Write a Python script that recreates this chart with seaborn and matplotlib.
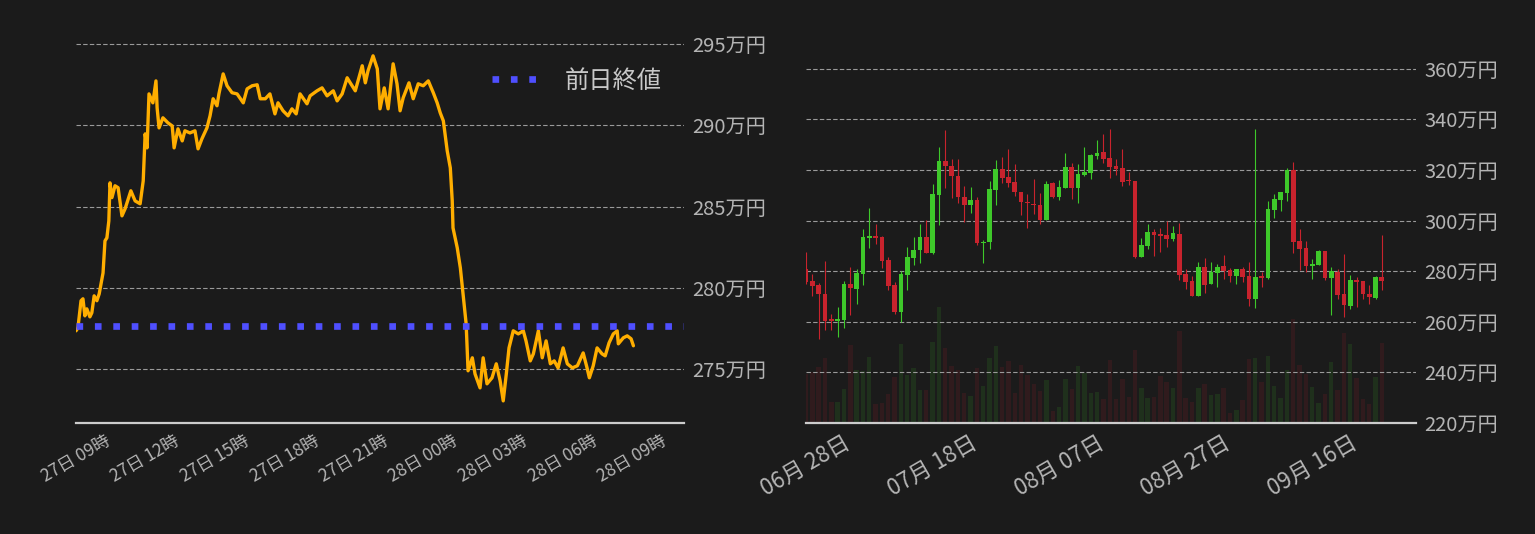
import pandas as pd
import matplotlib
matplotlib.use('Agg')
import matplotlib.pyplot as plt
import matplotlib.dates as mdates
from matplotlib.ticker import FuncFormatter, MultipleLocator
import seaborn as sns

# --- 左: 1日の推移 (27日 09時から, 分単位) ---
day_start = '2022-09-27 09:00'
minutes = [0, 5, 13, 18, 23, 28, 36, 41, 47, 54, 60, 67, 70, 75, 80, 85, 88, 93, 101, 109,
           119, 127, 142, 153, 166, 174, 179, 184, 189, 199, 207, 210, 215, 225, 238, 249, 254,
           264, 275, 282, 295, 308, 316, 326, 339, 347, 355, 365, 370, 381, 391, 404, 417, 433,
           443, 456, 469, 477, 490, 502, 515, 523, 536, 549, 559, 570, 580, 598, 606, 624, 637,
           650, 666, 676, 689, 702, 710, 723, 741, 749, 756, 769, 780, 787, 798, 808, 821, 831,
           839, 847, 862, 873, 886, 899, 912, 925, 935, 943, 951, 961, 969, 974, 976, 987, 995,
           1002, 1010, 1015, 1026, 1033, 1046, 1054, 1064, 1077, 1088, 1098, 1106, 1114, 1121,
           1132, 1145, 1158, 1165, 1176, 1184, 1197, 1207, 1217, 1228, 1238, 1248, 1261, 1272,
           1285, 1298, 1313, 1323, 1329, 1339, 1349, 1362, 1370, 1380, 1391, 1401, 1404, 1417,
           1427, 1437, 1443]
price = [277.37, 277.55, 279.22, 279.34, 278.29, 278.72, 278.23, 278.48, 279.52, 279.22,
         279.64, 280.57, 280.93, 282.90, 283.09, 284.13, 286.47, 285.56, 286.29, 286.17,
         284.44, 284.87, 285.98, 285.36, 285.18, 286.59, 289.48, 288.62, 291.94, 291.39,
         292.74, 291.08, 289.85, 290.47, 290.16, 289.97, 288.62, 289.79, 289.05, 289.67,
         289.54, 289.67, 288.56, 289.18, 289.85, 290.59, 291.64, 291.21, 291.94, 293.17,
         292.44, 292.01, 291.94, 291.39, 292.25, 292.44, 292.50, 291.64, 291.64, 291.94,
         290.71, 291.39, 290.90, 290.59, 291.02, 290.71, 291.94, 291.33, 291.82, 292.13,
         292.31, 291.82, 292.13, 291.51, 291.94, 292.93, 292.62, 292.13, 293.67, 292.62,
         293.36, 294.28, 293.48, 291.02, 292.31, 291.02, 293.79, 292.56, 290.90, 291.70,
         292.62, 291.64, 292.56, 292.44, 292.74, 292.01, 291.39, 290.77, 290.28, 288.44,
         287.39, 285.36, 283.70, 282.47, 281.24, 279.64, 277.80, 274.91, 275.71, 274.72,
         273.86, 275.71, 274.11, 274.48, 275.34, 274.29, 273.06, 274.72, 276.32, 277.37,
         277.18, 277.37, 276.75, 275.52, 275.95, 277.37, 275.71, 276.75, 275.34, 275.52,
         275.09, 276.32, 275.34, 275.09, 275.22, 276.01, 275.09, 274.48, 275.22, 276.32,
         275.95, 275.83, 276.63, 277.18, 277.37, 276.57, 276.94, 277.06, 276.88, 276.45]
prev_close = 277.68

# --- 右: 日足 (06月 28日から) ---
first_day = '2022-06-28'
opens = [280.9, 276.2, 274.6, 271.0, 261.1, 260.3, 260.9, 275.0, 273.1, 279.1,
         293.3, 294.0, 293.6, 284.5, 274.6, 264.0, 278.7, 285.4, 288.2, 293.6,
         287.3, 310.0, 323.7, 321.7, 317.8, 309.4, 306.0, 308.3, 291.0, 291.4,
         312.3, 320.5, 317.4, 315.4, 311.4, 307.1, 306.7, 306.3, 300.3, 315.0,
         309.4, 313.0, 321.3, 313.0, 318.2, 318.9, 325.7, 327.3, 324.9, 321.7,
         320.9, 315.8, 315.8, 285.7, 290.0, 295.6, 294.8, 294.4, 292.8, 294.8,
         279.0, 276.2, 270.2, 281.7, 275.0, 279.3, 282.1, 280.5, 278.2, 280.9,
         278.2, 269.1, 278.2, 277.4, 304.3, 308.3, 311.0, 320.0, 292.0, 289.2,
         282.1, 282.5, 288.1, 277.4, 279.7, 271.0, 266.3, 276.6, 276.2, 271.0,
         269.4, 277.7]
highs = [287.7, 279.0, 275.3, 284.1, 263.1, 265.9, 276.2, 281.7, 280.9, 296.8,
         305.1, 298.8, 294.0, 285.7, 275.8, 280.1, 289.6, 293.6, 298.8, 300.1,
         314.6, 329.2, 336.0, 324.5, 324.5, 313.8, 313.4, 309.4, 292.2, 315.8,
         324.1, 325.3, 328.5, 322.5, 311.4, 310.6, 316.6, 311.0, 315.8, 315.4,
         316.2, 326.9, 322.9, 322.5, 329.2, 326.5, 332.0, 334.4, 336.4, 324.5,
         328.5, 319.3, 315.8, 293.2, 298.8, 296.8, 297.2, 299.9, 298.0, 299.1,
         280.9, 278.2, 283.7, 285.3, 283.7, 282.9, 286.5, 281.3, 280.9, 281.7,
         283.7, 336.4, 279.7, 307.9, 310.6, 311.4, 320.9, 323.3, 296.8, 292.0,
         284.9, 288.5, 288.1, 281.7, 280.9, 286.9, 278.6, 277.8, 276.2, 274.6,
         278.2, 294.4]
lows = [275.1, 270.4, 253.3, 256.9, 256.9, 254.1, 257.7, 262.5, 267.2, 274.7,
        289.0, 290.6, 281.1, 272.7, 263.2, 259.8, 272.7, 282.6, 283.3, 287.4,
        286.9, 298.1, 313.1, 308.8, 306.8, 299.3, 303.2, 290.2, 283.4, 288.6,
        306.0, 314.7, 313.4, 309.6, 302.1, 296.9, 302.7, 298.5, 300.3, 309.0,
        308.3, 313.0, 308.7, 307.1, 317.8, 316.6, 324.5, 322.9, 317.0, 318.2,
        313.8, 314.2, 285.3, 285.7, 288.9, 286.1, 287.7, 289.6, 292.0, 276.6,
        273.0, 270.2, 270.2, 271.4, 275.0, 273.8, 277.0, 275.8, 275.0, 275.8,
        266.3, 265.5, 273.8, 277.0, 301.1, 303.9, 307.9, 287.3, 280.5, 279.7,
        277.0, 282.5, 276.6, 262.7, 269.1, 261.9, 265.1, 265.9, 269.1, 267.1,
        269.1, 272.6]
closes = [275.7, 274.3, 270.9, 260.5, 260.3, 261.1, 275.0, 273.5, 279.3, 293.6,
          294.0, 293.3, 284.2, 274.3, 264.0, 279.0, 285.7, 288.5, 293.6, 287.4,
          310.6, 323.7, 321.5, 317.5, 309.2, 306.0, 308.3, 291.0, 291.6, 312.6,
          320.5, 316.7, 315.0, 311.2, 307.2, 306.8, 306.0, 300.3, 314.6, 309.4,
          313.4, 321.3, 313.0, 318.6, 319.3, 326.1, 326.9, 324.5, 321.3, 320.5,
          315.4, 315.5, 285.7, 290.4, 295.6, 294.4, 294.0, 292.8, 295.2, 278.6,
          275.8, 270.2, 281.7, 274.6, 279.7, 281.7, 280.1, 278.2, 280.9, 277.8,
          269.1, 277.8, 277.4, 304.7, 308.7, 311.4, 320.0, 291.6, 288.9, 282.1,
          282.9, 288.1, 277.4, 280.1, 270.6, 266.7, 276.6, 275.8, 271.0, 269.8,
          277.8, 276.2]
volumes = [147, 154, 169, 196, 64, 64, 103, 235, 160, 157,
           199, 58, 61, 88, 139, 238, 145, 166, 100, 100,
           244, 349, 226, 172, 160, 91, 82, 166, 112, 196,
           232, 169, 187, 91, 175, 145, 118, 97, 130, 37,
           49, 133, 103, 172, 151, 91, 94, 73, 190, 73,
           133, 79, 218, 106, 76, 79, 142, 124, 106, 277,
           76, 64, 106, 118, 85, 88, 106, 31, 40, 70,
           193, 196, 124, 202, 112, 76, 160, 313, 175, 148,
           109, 61, 88, 184, 100, 271, 238, 136, 73, 58,
           139, 241]

bg = '#1b1b1b'
text_color = '#b4b4b4'
up_color = '#3ec82a'
down_color = '#c8232d'

sns.set_theme(style='dark', rc={
    'figure.facecolor': bg,
    'axes.facecolor': bg,
    'savefig.facecolor': bg,
})
plt.rcParams['font.family'] = ['Noto Sans CJK JP', 'DejaVu Sans']

fig, (ax1, ax2) = plt.subplots(1, 2, figsize=(15.35, 5.34), dpi=100)
ax3 = ax2.twinx()
left_box = [76 / 1535, 111 / 534, 608 / 1535, 387 / 534]
right_box = [806 / 1535, 111 / 534, 610 / 1535, 387 / 534]
ax1.set_position(left_box)
ax2.set_position(right_box)
ax3.set_position(right_box)

# 左のチャート
t0 = pd.Timestamp(day_start)
intraday = pd.DataFrame({'time': t0 + pd.to_timedelta(minutes, unit='min'), 'price': price})
sns.lineplot(data=intraday, x='time', y='price', ax=ax1, color='#ffae00', linewidth=2.4)
close_line = ax1.axhline(prev_close, color='#4f4fff', linewidth=4.8,
                         linestyle=(0, (1, 1.76)), label='前日終値')
ax1.set_xlim(t0, t0 + pd.Timedelta(minutes=1574))
ax1.set_ylim(271.7, 295.5)
ax1.yaxis.set_major_locator(MultipleLocator(5))
ax1.xaxis.set_major_locator(mdates.HourLocator(byhour=range(0, 24, 3)))
ax1.xaxis.set_major_formatter(mdates.DateFormatter('%d日 %H時'))
leg = ax1.legend(handles=[close_line], loc='upper right', bbox_to_anchor=(1.0, 0.975),
                 frameon=False, fontsize=17.5, handlelength=1.8, handletextpad=1.2)
for t in leg.get_texts():
    t.set_color('#c8c8c8')

# 右のチャート
days = pd.date_range(first_day, periods=len(opens), freq='D')
daily = pd.DataFrame({'day': days, 'open': opens, 'high': highs, 'low': lows,
                      'close': closes, 'volume': volumes})
daily['color'] = [up_color if c >= o else down_color for o, c in zip(daily['open'], daily['close'])]
daily['body_low'] = daily[['open', 'close']].min(axis=1)
daily['body_h'] = (daily['close'] - daily['open']).abs().clip(lower=0.5)

# 出来高 (後ろ)
ax3.bar(daily['day'], daily['volume'], width=0.7, color=daily['color'], alpha=0.12,
        edgecolor='none', linewidth=0)
ax3.set_ylim(0, max(volumes) * 3.33)
ax3.set_yticks([])
ax3.grid(False)
for s in ax3.spines.values():
    s.set_visible(False)
ax3.set_zorder(ax2.get_zorder() - 1)
ax2.patch.set_visible(False)

ax2.vlines(daily['day'], daily['low'], daily['high'], color=daily['color'], linewidth=0.8)
ax2.bar(daily['day'], daily['body_h'], bottom=daily['body_low'], width=0.74,
        color=daily['color'], edgecolor='none', linewidth=0)
ax2.set_xlim(days[0], days[0] + pd.Timedelta(days=96.4))
ax3.set_xlim(ax2.get_xlim())
ax2.set_ylim(220, 373)
ax2.yaxis.set_major_locator(MultipleLocator(20))
ax2.set_xticks(days[::20])
ax2.xaxis.set_major_formatter(mdates.DateFormatter('%m月 %d日'))

yen = FuncFormatter(lambda v, pos: f'{v:.0f}万円')
for ax, xsize in [(ax1, 12.4), (ax2, 16)]:
    ax.set_xlabel('')
    ax.set_ylabel('')
    ax.yaxis.tick_right()
    ax.yaxis.set_major_formatter(yen)
    ax.grid(axis='y', color='#9a9a9a', linestyle=(0, (4, 2)), linewidth=0.8)
    ax.grid(axis='x', visible=False)
    ax.tick_params(axis='y', length=0, pad=6, labelsize=14.5, colors=text_color)
    ax.tick_params(axis='x', length=0, pad=6, labelsize=xsize, colors=text_color,
                   labelrotation=30)
    for name, s in ax.spines.items():
        s.set_visible(name == 'bottom')
    ax.spines['bottom'].set_color('#cccccc')
    ax.spines['bottom'].set_linewidth(1.6)

fig.savefig('out.png', dpi=100)
